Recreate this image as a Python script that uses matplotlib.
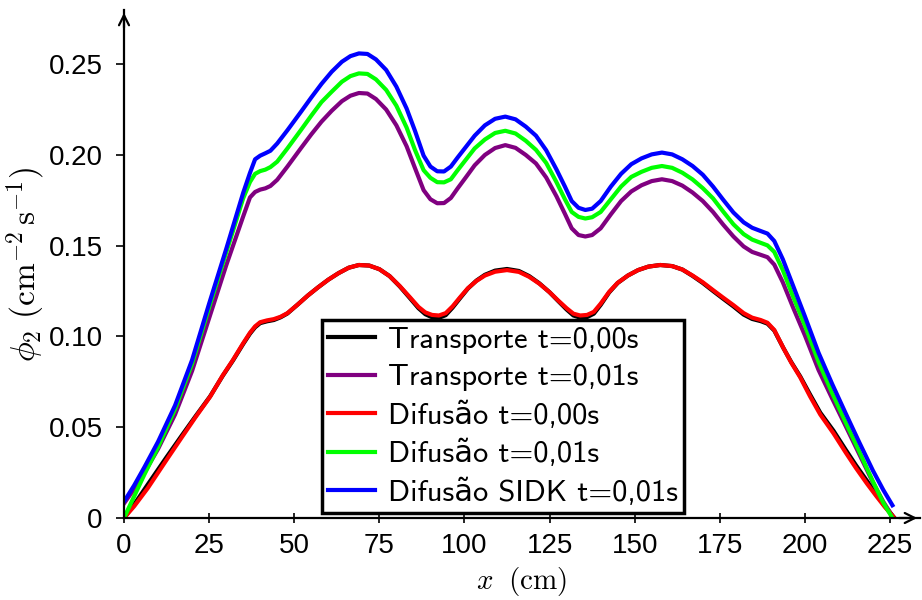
import matplotlib
matplotlib.use("Agg")
import matplotlib.pyplot as plt

plt.rcParams['mathtext.fontset'] = 'cm'

# curvas superiores (t=0,01s)
x_sup = [0, 3, 6, 10, 15, 20, 25, 30, 35, 37,
         38.5, 40, 41.5, 43, 45, 48, 52, 55, 58, 61,
         64, 66.5, 69, 71.5, 74, 77, 80, 83, 85.5, 88,
         90, 92, 94, 96, 98, 100.5, 103, 106, 109, 112,
         115, 118, 121, 124, 127, 129.5, 131.5, 133.5, 135.5, 137.5,
         140, 143, 146, 149, 152, 155, 158, 161, 164, 167,
         170, 173, 176, 179, 182, 184.5, 187, 189, 191, 193.5,
         196.5, 200, 204, 208, 212, 216, 220, 223, 225.7]
sidk_001 = [0.009, 0.018, 0.028, 0.042, 0.062, 0.087, 0.118, 0.148, 0.179, 0.190,
            0.1975, 0.1995, 0.2008, 0.2022, 0.2062, 0.2135, 0.2237, 0.2315, 0.239, 0.2457,
            0.2512, 0.2543, 0.2558, 0.2555, 0.2525, 0.2467, 0.2375, 0.2255, 0.213, 0.1995,
            0.1935, 0.1909, 0.1908, 0.1935, 0.1985, 0.2045, 0.2105, 0.2162, 0.2198, 0.221,
            0.2195, 0.2155, 0.2105, 0.2025, 0.192, 0.1825, 0.1745, 0.1708, 0.1696, 0.1703,
            0.1745, 0.1825, 0.1895, 0.1948, 0.198, 0.2002, 0.2012, 0.2002, 0.1975, 0.1938,
            0.189, 0.1825, 0.1752, 0.1682, 0.1628, 0.1598, 0.158, 0.1566, 0.1525, 0.1425,
            0.128, 0.111, 0.091, 0.0738, 0.0575, 0.0415, 0.026, 0.0155, 0.007]
dif_001 = [0.000, 0.012, 0.024, 0.039, 0.060, 0.085, 0.116, 0.146, 0.176, 0.185,
           0.1895, 0.1910, 0.1918, 0.1932, 0.1962, 0.2035, 0.2137, 0.2215, 0.229, 0.2347,
           0.2402, 0.2433, 0.2448, 0.2445, 0.2415, 0.2357, 0.227, 0.215, 0.2025, 0.1915,
           0.1873, 0.1849, 0.1848, 0.1865, 0.1915, 0.1975, 0.2035, 0.2084, 0.212, 0.2132,
           0.2117, 0.2077, 0.2027, 0.1955, 0.185, 0.1755, 0.1685, 0.1658, 0.1649, 0.1656,
           0.1685, 0.1755, 0.1825, 0.1878, 0.1906, 0.1928, 0.1938, 0.1928, 0.1901, 0.1864,
           0.1816, 0.176, 0.1687, 0.1617, 0.1563, 0.1533, 0.1515, 0.1501, 0.1465, 0.1365,
           0.122, 0.106, 0.086, 0.0688, 0.0525, 0.0365, 0.020, 0.0085, 0.000]
trans_001 = [0.008, 0.016, 0.025, 0.038, 0.057, 0.081, 0.110, 0.139, 0.166, 0.1765,
             0.1795, 0.1808, 0.1815, 0.1828, 0.1862, 0.1935, 0.2037, 0.2112, 0.2182, 0.2242,
             0.2295, 0.2325, 0.234, 0.2337, 0.2307, 0.2249, 0.2162, 0.2047, 0.1925, 0.1805,
             0.1755, 0.1733, 0.1734, 0.1762, 0.1815, 0.1878, 0.1942, 0.1999, 0.2037, 0.2053,
             0.2038, 0.1999, 0.1952, 0.1875, 0.1772, 0.1675, 0.1595, 0.1558, 0.155, 0.1558,
             0.1595, 0.1672, 0.1745, 0.1798, 0.1832, 0.1855, 0.1865, 0.1855, 0.183, 0.1792,
             0.1745, 0.1685, 0.1615, 0.155, 0.1495, 0.1465, 0.1449, 0.1436, 0.1395, 0.1298,
             0.116, 0.1005, 0.0815, 0.0658, 0.0505, 0.035, 0.0195, 0.009, 0.001]

# curvas inferiores (t=0,00s)
x_inf = [0, 3, 7, 12.5, 17, 21, 25.3, 29, 32, 35,
         37, 38.5, 40, 42, 44, 46, 48, 51, 54, 57,
         60, 63, 66, 69, 72, 75, 78, 81, 84, 86.5,
         88.5, 90.5, 92.5, 94.5, 96.5, 98.7, 101, 103.5, 106, 109,
         112.5, 116, 119, 122, 125, 127.5, 130, 132, 134, 136,
         138, 140, 142.5, 145, 148, 151, 154, 157.5, 161, 164,
         167, 170, 173, 176, 179, 182, 184.5, 187, 189, 191,
         193.7, 196, 198.6, 201.5, 204.5, 208.4, 212, 215, 218.2, 221,
         223.5, 226.3]
dif_000 = [0.0, 0.0065, 0.0165, 0.032, 0.0445, 0.0555, 0.0668, 0.0785, 0.087, 0.0962,
           0.102, 0.1055, 0.1078, 0.1088, 0.1095, 0.1108, 0.1128, 0.1175, 0.1225, 0.127,
           0.1312, 0.1348, 0.1378, 0.1393, 0.139, 0.137, 0.1332, 0.1277, 0.1215, 0.1162,
           0.1132, 0.1118, 0.1115, 0.1128, 0.1165, 0.1215, 0.1265, 0.1305, 0.1335, 0.1356,
           0.1365, 0.1355, 0.1328, 0.129, 0.1243, 0.1198, 0.1155, 0.1125, 0.1115, 0.1118,
           0.1135, 0.118, 0.1245, 0.1295, 0.1335, 0.1365, 0.1384, 0.1393, 0.1387, 0.1368,
           0.1335, 0.1298, 0.1255, 0.1213, 0.1172, 0.1128, 0.1103, 0.109, 0.1075, 0.1035,
           0.0935, 0.0855, 0.0775, 0.067, 0.057, 0.0466, 0.036, 0.0275, 0.019, 0.012,
           0.006, 0.0]
trans_000 = [0.0, 0.0075, 0.0185, 0.0335, 0.0455, 0.056, 0.067, 0.0783, 0.0867, 0.0958,
             0.1015, 0.105, 0.1073, 0.1083, 0.109, 0.1105, 0.1126, 0.1175, 0.1225, 0.127,
             0.1312, 0.1348, 0.1378, 0.1393, 0.139, 0.137, 0.1332, 0.1275, 0.121, 0.1155,
             0.1122, 0.1105, 0.1102, 0.1117, 0.1158, 0.121, 0.1263, 0.1307, 0.1339, 0.1362,
             0.1371, 0.136, 0.1332, 0.1292, 0.1243, 0.1195, 0.1148, 0.1115, 0.1103, 0.1106,
             0.1125, 0.1173, 0.1242, 0.1294, 0.1335, 0.1365, 0.1384, 0.1393, 0.1387, 0.1368,
             0.1333, 0.1294, 0.125, 0.1207, 0.1165, 0.112, 0.1096, 0.1084, 0.107, 0.1032,
             0.0935, 0.0858, 0.078, 0.068, 0.058, 0.048, 0.0375, 0.029, 0.0205, 0.013,
             0.0065, 0.0]

series = [
    (x_inf, trans_000, "black", "Transporte t=0,00s"),
    (x_sup, trans_001, "#800080", "Transporte t=0,01s"),
    (x_inf, dif_000, "red", "Difusão t=0,00s"),
    (x_sup, dif_001, "#00ff00", "Difusão t=0,01s"),
    (x_sup, sidk_001, "blue", "Difusão SIDK t=0,01s"),
]

fig = plt.figure(figsize=(9.22, 6), dpi=100)
ax = fig.add_axes([124/922, 82/600, 796/922, 508/600])

for xs, ys, cor, nome in series:
    ax.plot(xs, ys, color=cor, lw=3, label=nome, solid_joinstyle='round')

ax.set_xlim(0, 233.8)
ax.set_ylim(0, 0.2797)

ax.spines['top'].set_visible(False)
ax.spines['right'].set_visible(False)
ax.spines['left'].set_linewidth(1.6)
ax.spines['bottom'].set_linewidth(1.6)

# setas nos eixos
ax.annotate('', xy=(1.0, 0), xytext=(0.97, 0), xycoords='axes fraction',
            arrowprops=dict(arrowstyle='->', lw=1.6, color='k', mutation_scale=18))
ax.annotate('', xy=(0, 1.0), xytext=(0, 0.96), xycoords='axes fraction',
            arrowprops=dict(arrowstyle='->', lw=1.6, color='k', mutation_scale=18))

xt = [0, 25, 50, 75, 100, 125, 150, 175, 200, 225]
yt = [0, 0.05, 0.10, 0.15, 0.20, 0.25]
yt_labels = ["0", "0.05", "0.10", "0.15", "0.20", "0.25"]
ax.set_xticks(xt)
ax.set_xticklabels([str(v) for v in xt], family='Liberation Sans', fontsize=20)
ax.set_yticks(yt)
ax.set_yticklabels(yt_labels, family='Liberation Sans', fontsize=20)
ax.tick_params(axis='x', direction='inout', length=7.5, width=1.2, pad=7)
ax.tick_params(axis='y', direction='out', length=5.8, width=1.2, pad=9.5)

ax.set_xlabel(r'$x\ \;(\mathrm{cm})$', fontsize=21)
ax.xaxis.set_label_coords(0.5, -0.0925)
ax.set_ylabel(r'$\phi_2\ (\mathrm{cm}^{-2}\,\mathrm{s}^{-1})$', fontsize=24)
ax.yaxis.set_label_coords(-0.097, 0.5)

leg = ax.legend(loc='lower left', bbox_to_anchor=(0.2487, 0.0098), fancybox=False,
                framealpha=1, edgecolor='black', handlelength=1.55, handletextpad=0.4,
                labelspacing=0.335, borderpad=0.2, borderaxespad=0,
                prop={'family': ['cmss10', 'DejaVu Sans'], 'size': 22})
leg.get_frame().set_linewidth(2.5)

plt.savefig("out.png", dpi=100)
